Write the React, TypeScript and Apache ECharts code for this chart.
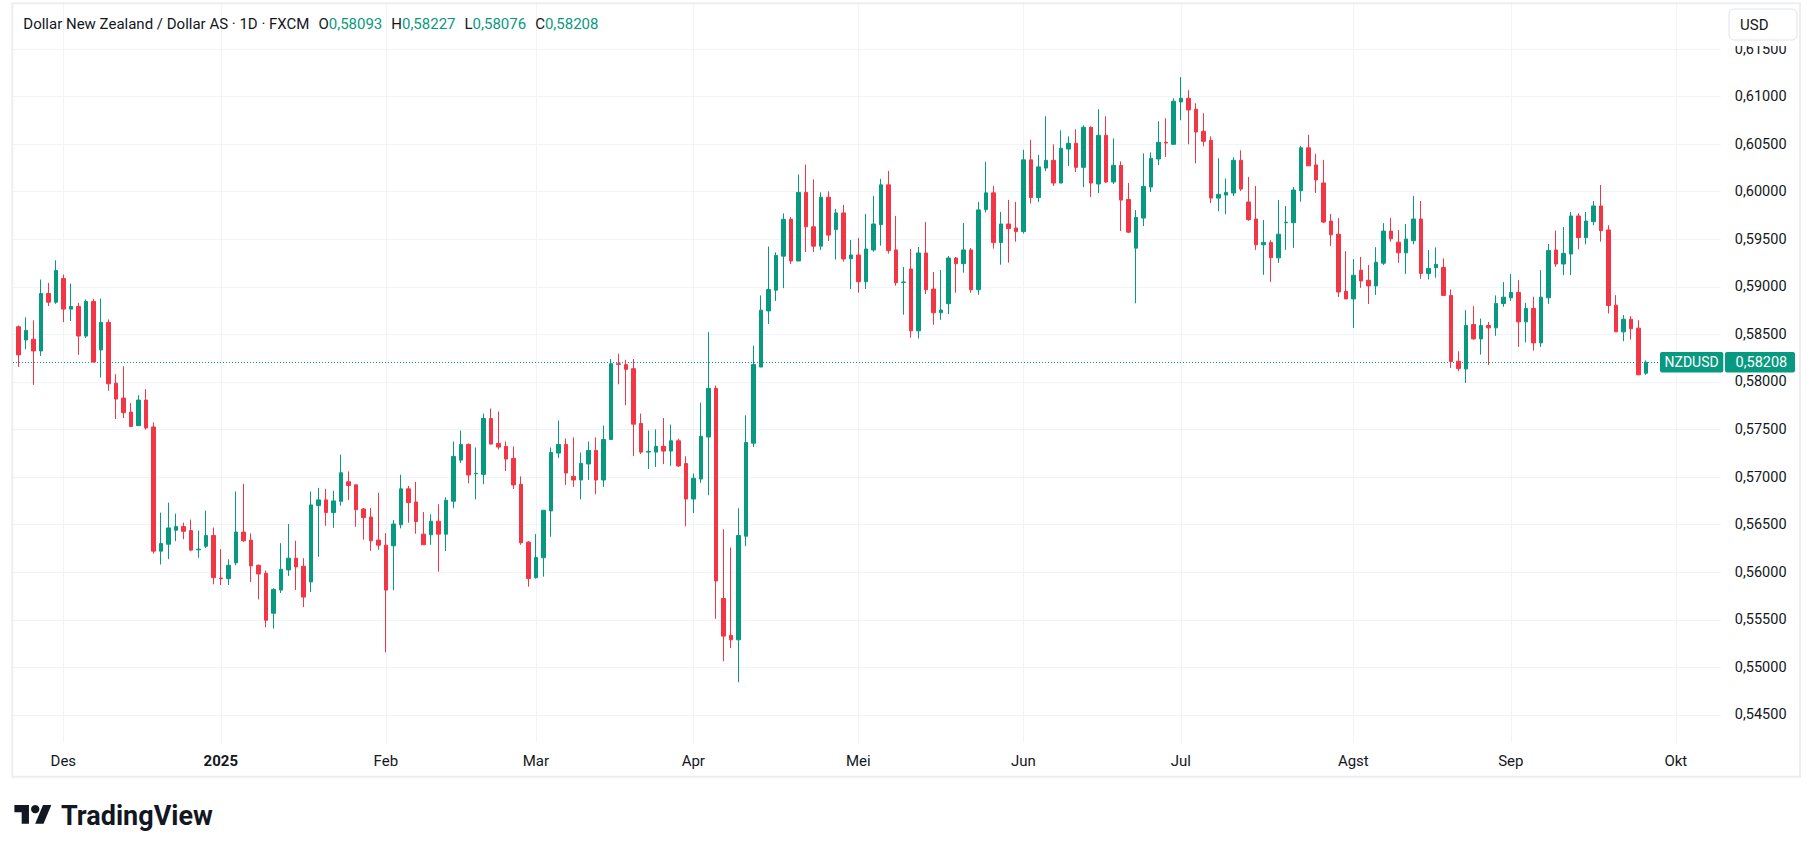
import React, { useEffect, useRef } from "react";
import * as echarts from "echarts";

// ---------- categories (trading days) ----------
const START_DATE = "2024-11-21";
const END_DATE = "2025-10-09";
const HOLIDAYS = ["2024-12-25", "2025-01-01"];
const MONTH_LABELS = ["Jan", "Feb", "Mar", "Apr", "Mei", "Jun", "Jul", "Agst", "Sep", "Okt", "Nov", "Des"];
const FIRST_BAR_INDEX = 1;

// ---------- texts ----------
const TITLE = "Dollar New Zealand / Dollar AS · 1D · FXCM";
const SYMBOL = "NZDUSD";
const CURRENCY = "USD";
const BRAND = "TradingView";

// ---------- series values (daily OHLC, 22 Nov 2024 .. 25 Sep 2025) ----------
const OPEN = [
  0.58581, 0.58442, 0.58449, 0.58326, 0.5893, 0.58839, 0.59087, 0.58766, 0.58794, 0.58483,
  0.58846, 0.58337, 0.58627, 0.57988, 0.57831, 0.57684, 0.57541, 0.5781, 0.57527, 0.56222,
  0.56295, 0.56442, 0.5648, 0.56438, 0.56236, 0.56274, 0.56386, 0.5594, 0.55933, 0.56099,
  0.56423, 0.56338, 0.56074, 0.55989, 0.5557, 0.55813, 0.56025, 0.56148, 0.56063, 0.55898,
  0.56701, 0.56761, 0.56627, 0.56746, 0.56951, 0.56919, 0.56665, 0.56581, 0.56338, 0.56285,
  0.56278, 0.565, 0.56877, 0.56739, 0.56401, 0.56394, 0.56537, 0.56401, 0.56747, 0.57179,
  0.57344, 0.57036, 0.57029, 0.57616, 0.57354, 0.57323, 0.57197, 0.56925, 0.56317, 0.55943,
  0.56153, 0.56645, 0.57253, 0.57344, 0.57008, 0.5697, 0.57138, 0.57281, 0.5697, 0.57396,
  0.58192, 0.58182, 0.5814, 0.57564, 0.57263, 0.57263, 0.57324, 0.57274, 0.57382, 0.57143,
  0.5677, 0.5698, 0.57422, 0.57933, 0.55724, 0.55337, 0.5529, 0.56379, 0.57357, 0.58157,
  0.58747, 0.58965, 0.59323, 0.5971, 0.59272, 0.59993, 0.59631, 0.59428, 0.59942, 0.59602,
  0.59777, 0.59296, 0.59335, 0.59054, 0.59388, 0.59654, 0.60072, 0.59388, 0.59047, 0.59188,
  0.58538, 0.59356, 0.58977, 0.58728, 0.58823, 0.59303, 0.59244, 0.59388, 0.5897, 0.59812,
  0.59988, 0.59465, 0.59661, 0.59619, 0.59581, 0.60335, 0.59939, 0.60249, 0.6033, 0.60091,
  0.60449, 0.60509, 0.60256, 0.60677, 0.60081, 0.60593, 0.60102, 0.60277, 0.59919, 0.59407,
  0.59723, 0.60049, 0.60344, 0.60519, 0.60498, 0.60944, 0.60982, 0.60867, 0.60635, 0.6054,
  0.59933, 0.59965, 0.59986, 0.6033, 0.59892, 0.59713, 0.59442, 0.59467, 0.59305, 0.59674,
  0.59674, 0.60011, 0.60461, 0.60282, 0.60092, 0.59692, 0.59554, 0.58953, 0.58873, 0.59175,
  0.59069, 0.5901, 0.59249, 0.59586, 0.5947, 0.59358, 0.59485, 0.59713, 0.59141, 0.59201,
  0.59204, 0.5891, 0.58218, 0.58137, 0.58604, 0.58453, 0.58594, 0.58569, 0.58825, 0.58885,
  0.58941, 0.58632, 0.58773, 0.58411, 0.58885, 0.59387, 0.5924, 0.59345, 0.59745, 0.59517,
  0.59685, 0.5985, 0.59598, 0.58808, 0.58527, 0.5866, 0.58566, 0.58093,
];
const HIGH = [
  0.58595, 0.58679, 0.58648, 0.59077, 0.59042, 0.59279, 0.59129, 0.59035, 0.58832, 0.58867,
  0.58874, 0.58877, 0.58658, 0.58082, 0.58166, 0.57779, 0.57862, 0.57925, 0.57576, 0.56627,
  0.56732, 0.56616, 0.56522, 0.56554, 0.56438, 0.56648, 0.5647, 0.56243, 0.56137, 0.56849,
  0.5693, 0.56408, 0.56081, 0.56018, 0.55831, 0.56306, 0.56507, 0.56331, 0.56148, 0.56849,
  0.56887, 0.56877, 0.56856, 0.57236, 0.5706, 0.56919, 0.56676, 0.56676, 0.56835, 0.56412,
  0.56549, 0.57025, 0.56908, 0.56951, 0.56634, 0.5661, 0.56715, 0.56788, 0.57375, 0.5749,
  0.57354, 0.57312, 0.57668, 0.57721, 0.57689, 0.57375, 0.57323, 0.57008, 0.56328, 0.56401,
  0.56652, 0.57312, 0.57595, 0.57406, 0.57417, 0.5726, 0.57375, 0.57417, 0.57543, 0.58241,
  0.58297, 0.58234, 0.58241, 0.57668, 0.57491, 0.57502, 0.57621, 0.57552, 0.57404, 0.57219,
  0.57038, 0.57784, 0.58523, 0.57962, 0.56452, 0.5626, 0.56673, 0.5765, 0.58382, 0.5891,
  0.59424, 0.59363, 0.59772, 0.59732, 0.60181, 0.60286, 0.6013, 0.59993, 0.60004, 0.59819,
  0.59861, 0.59493, 0.59514, 0.59767, 0.59956, 0.60135, 0.60219, 0.59746, 0.59209, 0.59398,
  0.59419, 0.59682, 0.59156, 0.59177, 0.59324, 0.59314, 0.59672, 0.59409, 0.59893, 0.60314,
  0.60061, 0.59788, 0.59914, 0.59893, 0.6044, 0.60546, 0.60388, 0.60793, 0.60498, 0.60646,
  0.60582, 0.60656, 0.60698, 0.60688, 0.60867, 0.60793, 0.60561, 0.60319, 0.60091, 0.59807,
  0.60403, 0.60414, 0.6074, 0.60772, 0.60982, 0.61204, 0.61067, 0.6093, 0.60825, 0.60582,
  0.60351, 0.6014, 0.60361, 0.60435, 0.60156, 0.60061, 0.59702, 0.59491, 0.59913, 0.5985,
  0.6005, 0.60482, 0.60598, 0.60398, 0.60335, 0.59765, 0.59723, 0.59375, 0.59291, 0.59315,
  0.59231, 0.59417, 0.5967, 0.59723, 0.59597, 0.5966, 0.59956, 0.59903, 0.59387, 0.59415,
  0.59299, 0.58973, 0.58323, 0.58755, 0.58797, 0.58667, 0.58632, 0.5891, 0.5905, 0.59134,
  0.59071, 0.58832, 0.58896, 0.59176, 0.5945, 0.59591, 0.59629, 0.59787, 0.59773, 0.59787,
  0.59903, 0.60071, 0.59647, 0.58913, 0.58703, 0.58692, 0.5865, 0.58227,
];
const LOW = [
  0.58159, 0.58344, 0.5797, 0.58274, 0.58798, 0.58822, 0.5863, 0.58641, 0.58285, 0.58463,
  0.58204, 0.58047, 0.57908, 0.57611, 0.57621, 0.57531, 0.57541, 0.57499, 0.56197, 0.56082,
  0.56138, 0.56327, 0.56348, 0.56222, 0.56152, 0.56253, 0.55873, 0.55866, 0.55866, 0.56074,
  0.5632, 0.55898, 0.55715, 0.55423, 0.55408, 0.55782, 0.55961, 0.55813, 0.55634, 0.55792,
  0.56162, 0.56489, 0.56468, 0.56701, 0.56761, 0.56479, 0.56342, 0.56225, 0.56236, 0.55158,
  0.55813, 0.56461, 0.56521, 0.56405, 0.56289, 0.56289, 0.56006, 0.56223, 0.56673, 0.57148,
  0.56935, 0.56767, 0.56925, 0.57347, 0.57291, 0.57064, 0.56876, 0.56289, 0.55849, 0.55933,
  0.55954, 0.56373, 0.572, 0.56918, 0.56897, 0.56767, 0.5697, 0.5682, 0.56897, 0.57396,
  0.57976, 0.57756, 0.57221, 0.57242, 0.57085, 0.57107, 0.57136, 0.57118, 0.57107, 0.56484,
  0.56622, 0.56941, 0.5681, 0.55511, 0.55065, 0.55203, 0.54844, 0.56274, 0.57317, 0.58157,
  0.5861, 0.58852, 0.58986, 0.5924, 0.59272, 0.59366, 0.59366, 0.59388, 0.59482, 0.59286,
  0.59265, 0.58977, 0.58938, 0.58977, 0.5937, 0.59433, 0.59349, 0.59012, 0.58707, 0.58465,
  0.58458, 0.58924, 0.58602, 0.58654, 0.58714, 0.58938, 0.59149, 0.58938, 0.58917, 0.59781,
  0.59402, 0.59233, 0.59254, 0.59475, 0.5956, 0.59875, 0.59891, 0.60217, 0.6006, 0.60091,
  0.6027, 0.60207, 0.60049, 0.59944, 0.59986, 0.60091, 0.60081, 0.59586, 0.59565, 0.58828,
  0.59639, 0.59996, 0.60281, 0.60365, 0.60498, 0.60751, 0.60498, 0.60298, 0.60477, 0.59881,
  0.59796, 0.59765, 0.59954, 0.60007, 0.59695, 0.59389, 0.59126, 0.59052, 0.59252, 0.59389,
  0.5941, 0.59895, 0.60272, 0.59987, 0.5967, 0.59431, 0.58894, 0.58873, 0.58567, 0.58989,
  0.5882, 0.58915, 0.59231, 0.59474, 0.59252, 0.59136, 0.59447, 0.59085, 0.59078, 0.59096,
  0.5891, 0.58148, 0.58113, 0.5799, 0.58446, 0.58288, 0.58179, 0.58485, 0.5879, 0.58853,
  0.58369, 0.58415, 0.5833, 0.58369, 0.58822, 0.59211, 0.59124, 0.59124, 0.59394, 0.59447,
  0.59647, 0.59475, 0.5872, 0.58527, 0.58429, 0.58446, 0.58075, 0.58076,
];
const CLOSE = [
  0.58285, 0.58543, 0.58326, 0.5893, 0.58839, 0.59171, 0.58766, 0.58794, 0.58483, 0.58846,
  0.58211, 0.58627, 0.57981, 0.5782, 0.57677, 0.57531, 0.5781, 0.57517, 0.56222, 0.56302,
  0.56466, 0.5648, 0.56431, 0.56233, 0.56243, 0.56386, 0.55943, 0.55933, 0.56074, 0.56423,
  0.56331, 0.56067, 0.55982, 0.55496, 0.5582, 0.56032, 0.56148, 0.56056, 0.55739, 0.56708,
  0.56761, 0.56627, 0.5675, 0.57046, 0.56912, 0.56658, 0.56574, 0.56331, 0.56285, 0.55813,
  0.56507, 0.56877, 0.56732, 0.56532, 0.56289, 0.56537, 0.56401, 0.56757, 0.57218, 0.57344,
  0.57022, 0.5704, 0.57616, 0.57347, 0.57316, 0.5719, 0.56918, 0.5631, 0.55933, 0.56156,
  0.56652, 0.5726, 0.57344, 0.57043, 0.5697, 0.57145, 0.57281, 0.5697, 0.57396, 0.58192,
  0.58185, 0.58133, 0.57557, 0.57263, 0.5727, 0.57324, 0.57274, 0.57382, 0.57118, 0.5677,
  0.56988, 0.57429, 0.57933, 0.55909, 0.55329, 0.5529, 0.56387, 0.57364, 0.58183, 0.58755,
  0.58972, 0.5933, 0.5971, 0.59272, 0.59993, 0.59631, 0.59428, 0.59942, 0.59544, 0.59777,
  0.59293, 0.59335, 0.59054, 0.59398, 0.59661, 0.60072, 0.59381, 0.59044, 0.59051, 0.58538,
  0.59356, 0.5897, 0.58728, 0.58756, 0.59303, 0.59244, 0.59388, 0.5897, 0.59809, 0.59988,
  0.59465, 0.59661, 0.59612, 0.59581, 0.60335, 0.59939, 0.60261, 0.6033, 0.60091, 0.60456,
  0.60509, 0.60256, 0.60677, 0.60091, 0.60593, 0.60102, 0.60277, 0.59912, 0.59575, 0.5973,
  0.60056, 0.60351, 0.60519, 0.60512, 0.60951, 0.60982, 0.6086, 0.60628, 0.6053, 0.59933,
  0.59972, 0.59993, 0.6033, 0.60028, 0.59706, 0.59442, 0.59467, 0.59305, 0.59554, 0.5968,
  0.60018, 0.60461, 0.60272, 0.60124, 0.59681, 0.59547, 0.58946, 0.58873, 0.59122, 0.59062,
  0.5901, 0.59259, 0.59586, 0.59505, 0.59358, 0.59502, 0.59713, 0.59141, 0.59194, 0.59236,
  0.5891, 0.58215, 0.58141, 0.58594, 0.58453, 0.58594, 0.58569, 0.58825, 0.58892, 0.58941,
  0.58632, 0.58773, 0.58411, 0.58892, 0.59383, 0.5924, 0.59352, 0.59745, 0.59517, 0.59692,
  0.5985, 0.59591, 0.58804, 0.58527, 0.5866, 0.58559, 0.58075, 0.58208,
];

// ---------- styles ----------
const UP = "#089981";
const DOWN = "#f23645";
const TEXT = "#131722";
const GRID_LINE = "#f0f3fa";
const FONT = "Roboto";
const Y_MIN = 0.542087;
const Y_MAX = 0.619731;

const fmt = (v: number) => v.toFixed(5).replace(".", ",");

function buildDates(): string[] {
  const out: string[] = [];
  const [sy, sm, sd] = START_DATE.split("-").map(Number);
  const [ey, em, ed] = END_DATE.split("-").map(Number);
  let t = Date.UTC(sy, sm - 1, sd);
  const end = Date.UTC(ey, em - 1, ed);
  while (t <= end) {
    const d = new Date(t);
    const wd = d.getUTCDay();
    const iso = d.toISOString().slice(0, 10);
    if (wd !== 0 && wd !== 6 && HOLIDAYS.indexOf(iso) < 0) out.push(iso);
    t += 86400000;
  }
  return out;
}

const TV_PATH = "M14 22H7V11H0V4h14v18zM28 22h-8l7.5-18h8L28 22z";
let shapeRegistered = false;

export default function App() {
  const ref = useRef<HTMLDivElement | null>(null);

  useEffect(() => {
    if (!ref.current) return;
    if (!shapeRegistered) {
      echarts.graphic.registerShape("tvlogo", echarts.graphic.extendPath(TV_PATH, {}) as any);
      shapeRegistered = true;
    }
    const chart = echarts.init(ref.current, undefined, { renderer: "svg" });

    const dates = buildDates();
    const monthStart = new Set<number>();
    for (let i = 1; i < dates.length; i++) {
      if (dates[i].slice(0, 7) !== dates[i - 1].slice(0, 7)) monthStart.add(i);
    }
    const data = OPEN.map((o, i) => [i + FIRST_BAR_INDEX, o, CLOSE[i], LOW[i], HIGH[i]]);
    const n = OPEN.length - 1;
    const lastClose = CLOSE[n];

    chart.setOption({
      animation: false,
      backgroundColor: "#ffffff",
      textStyle: { fontFamily: FONT },
      grid: { left: 10.8, right: 92.2, top: 4, bottom: 109.3, containLabel: false },
      xAxis: {
        type: "category",
        data: dates,
        boundaryGap: false,
        axisLine: { show: false },
        axisTick: { show: false },
        axisLabel: {
          interval: (i: number) => monthStart.has(i),
          formatter: (v: string) => {
            const m = Number(v.slice(5, 7)) - 1;
            return m === 0 ? "{y|" + v.slice(0, 4) + "}" : MONTH_LABELS[m];
          },
          color: TEXT,
          fontSize: 15,
          fontFamily: FONT,
          margin: 11,
          rich: { y: { fontWeight: "bold", fontSize: 15, color: TEXT, fontFamily: FONT } },
        },
        splitLine: {
          show: true,
          interval: (i: number) => monthStart.has(i),
          lineStyle: { color: GRID_LINE, width: 1 },
        },
      },
      yAxis: {
        type: "value",
        position: "right",
        min: Y_MIN,
        max: Y_MAX,
        splitNumber: 15,
        minInterval: 0.005,
        maxInterval: 0.005,
        axisLine: { show: false },
        axisTick: { show: false },
        axisLabel: {
          formatter: (v: number) => fmt(v),
          color: TEXT,
          fontSize: 14.5,
          fontFamily: FONT,
          margin: 14,
          showMinLabel: false,
          showMaxLabel: false,
        },
        splitLine: { show: true, showMinLine: false, showMaxLine: false, lineStyle: { color: GRID_LINE, width: 1 } },
      },
      series: [
        {
          type: "candlestick",
          z: 3,
          data,
          encode: { x: 0, y: [1, 2, 3, 4] },
          barWidth: 4,
          itemStyle: { color: UP, color0: DOWN, borderColor: UP, borderColor0: DOWN, borderWidth: 1 },
        },
      ],
    });

    const yc = chart.convertToPixel({ yAxisIndex: 0 }, lastClose) as number;

    chart.setOption({
      graphic: [
        {
          type: "rect",
          silent: true,
          z: 1,
          shape: { x: 12.3, y: 3.3, width: 1787.7, height: 773.4 },
          style: { fill: "none", stroke: "#eceef2", lineWidth: 2 },
        },
        {
          type: "line",
          silent: true,
          z: 1,
          shape: { x1: 13, y1: Math.round(yc) + 0.5, x2: 1660, y2: Math.round(yc) + 0.5 },
          style: { stroke: UP, lineWidth: 1, lineDash: [1, 2] },
        },
        {
          type: "rect",
          silent: true,
          z: 50,
          shape: { x: 1724, y: 5, width: 74, height: 41 },
          style: { fill: "#ffffff" },
        },
        {
          type: "rect",
          silent: true,
          z: 60,
          shape: { x: 1729, y: 9, width: 68, height: 31, r: 5 },
          style: { fill: "#ffffff", stroke: "#e0e3eb", lineWidth: 1 },
        },
        {
          type: "text",
          silent: true,
          z: 61,
          x: 1740,
          y: 24.5,
          style: { text: CURRENCY, fontSize: 15, fontFamily: FONT, fill: TEXT, verticalAlign: "middle" },
        },
        {
          type: "text",
          silent: true,
          z: 61,
          x: 23.3,
          y: 24,
          style: {
            text:
              TITLE +
              "{s| }O{v|" + fmt(OPEN[n]) + "}{s| }H{v|" + fmt(HIGH[n]) + "}{s| }L{v|" + fmt(LOW[n]) +
              "}{s| }C{v|" + fmt(CLOSE[n]) + "}",
            fontSize: 15,
            fontFamily: FONT,
            fill: TEXT,
            verticalAlign: "middle",
            rich: {
              v: { fill: UP, fontSize: 15, fontFamily: FONT },
              s: { width: 9, fontSize: 15, fontFamily: FONT },
            },
          },
        },
        {
          type: "rect",
          silent: true,
          z: 70,
          shape: { x: 1660, y: yc - 10.3, width: 63.3, height: 20.6, r: 2 },
          style: { fill: UP },
        },
        {
          type: "text",
          silent: true,
          z: 71,
          x: 1691.6,
          y: yc,
          style: { text: SYMBOL, fontSize: 14, fontFamily: FONT, fill: "#ffffff", align: "center", verticalAlign: "middle" },
        },
        {
          type: "rect",
          silent: true,
          z: 70,
          shape: { x: 1725, y: yc - 10.3, width: 70, height: 20.6, r: 2 },
          style: { fill: UP },
        },
        {
          type: "text",
          silent: true,
          z: 71,
          x: 1735.5,
          y: yc,
          style: { text: fmt(lastClose), fontSize: 14.5, fontFamily: FONT, fill: "#ffffff", verticalAlign: "middle" },
        },
        {
          type: "tvlogo",
          silent: true,
          z: 80,
          x: 14.4,
          y: 800.8,
          scaleX: 1.04,
          scaleY: 1.04,
          style: { fill: TEXT },
        },
        {
          type: "circle",
          silent: true,
          z: 80,
          shape: { cx: 14.4 + 20 * 1.04, cy: 800.8 + 8 * 1.04, r: 4 * 1.04 },
          style: { fill: TEXT },
        },
        {
          type: "text",
          silent: true,
          z: 80,
          x: 61,
          y: 815.5,
          style: { text: BRAND, fontSize: 27, fontWeight: "bold", fontFamily: FONT, fill: TEXT, verticalAlign: "middle" },
        },
      ],
    });

    return () => {
      chart.dispose();
    };
  }, []);

  return (
    <div
      ref={ref}
      style={{ position: "absolute", left: 0, top: 0, width: "1813px", height: "852px", background: "#ffffff" }}
    />
  );
}
